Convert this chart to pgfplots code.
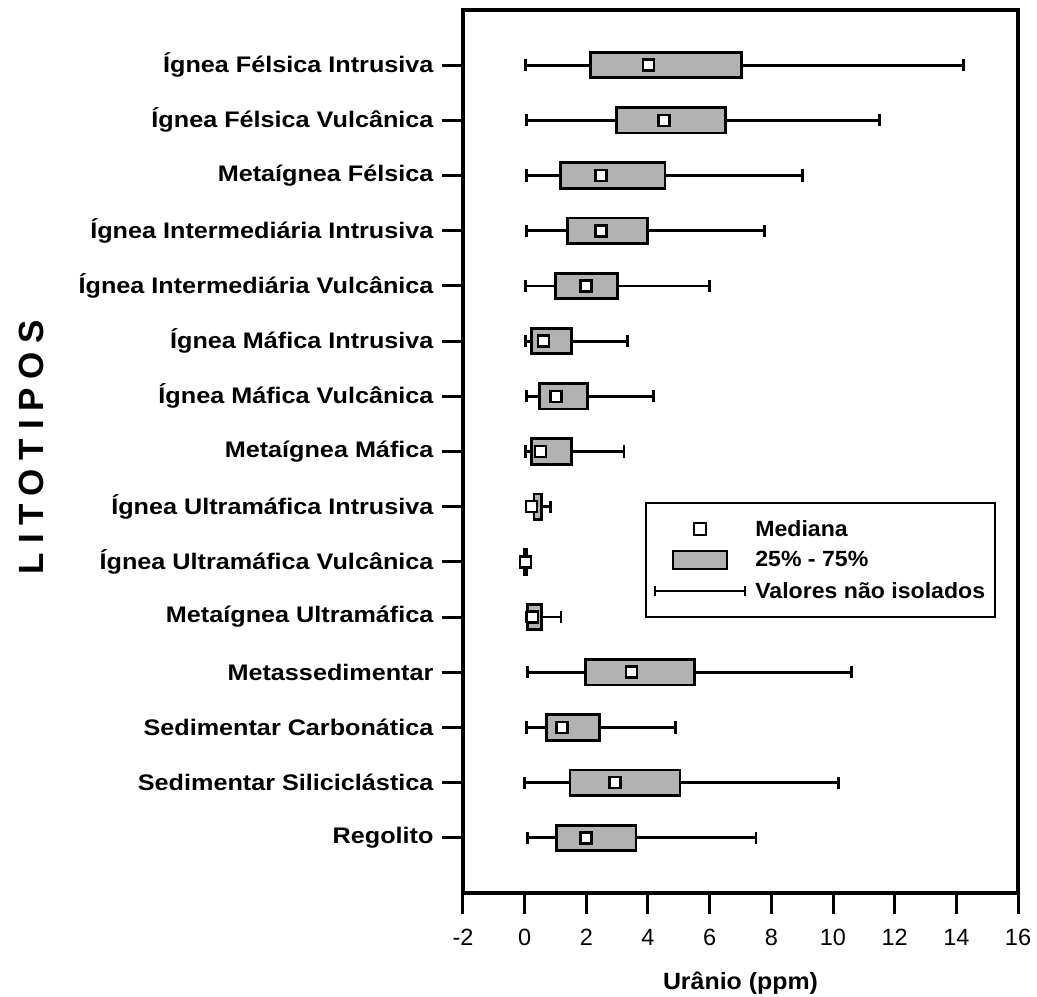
\documentclass[border=0pt]{standalone}
\usepackage{fontspec}
\setmainfont{Liberation Sans}
\newfontfamily\lblfont{Liberation Sans}[FakeStretch=1.12]
\newfontfamily\legfont{Liberation Sans}[FakeStretch=1.05]
\newfontfamily\xlfont{Liberation Sans}[FakeStretch=1.06]
\newfontfamily\titfont{Liberation Sans}[LetterSpace=25]
\usepackage{pgfplots}
\pgfplotsset{compat=1.18}
\usepgfplotslibrary{statistics}
\definecolor{boxgray}{RGB}{178,178,178}
\newcommand{\bp}[6]{%
\addplot[draw=black, fill=boxgray, line width=2.8pt,
  boxplot prepared={draw position=#1, lower whisker=#2, lower quartile=#3,
  median=#4, upper quartile=#5, upper whisker=#6,
  box extend=0.46, whisker extend=0.22}] coordinates {};}
\begin{document}
\begin{tikzpicture}
\begin{axis}[
  name=ax,
  scale only axis, width=555pt, height=883pt,
  xmin=-2, xmax=16, ymin=0, ymax=16,
  xtick={-2,0,...,16},
  ytick={1,...,15},
  yticklabels={Regolito, Sedimentar Siliciclástica, Sedimentar Carbonática, Metassedimentar, Metaígnea Ultramáfica, Ígnea Ultramáfica Vulcânica, Ígnea Ultramáfica Intrusiva, Metaígnea Máfica, Ígnea Máfica Vulcânica, Ígnea Máfica Intrusiva, Ígnea Intermediária Vulcânica, Ígnea Intermediária Intrusiva, Metaígnea Félsica, Ígnea Félsica Vulcânica, Ígnea Félsica Intrusiva},
  tick align=outside, tick pos=left,
  major tick length=21pt,
  every tick/.style={black, line width=3pt},
  axis line style={line width=3.2pt},
  /pgf/number format/assume math mode=true,
  yticklabel style={font=\lblfont\bfseries\fontsize{22.5}{26}\selectfont, xshift=-5pt},
  xticklabel style={font=\fontsize{23.5}{26}\selectfont, yshift=-12pt},
  xlabel={Urânio (ppm)},
  xlabel style={font=\xlfont\bfseries\fontsize{23.5}{27}\selectfont, at={(axis description cs:0.5,-0.102)}, anchor=center},
  ylabel={LITOTIPOS},
  ylabel style={font=\titfont\bfseries\fontsize{35}{40}\selectfont, at={(axis description cs:-0.7784,0.505)}, anchor=center},
  boxplot/draw/median/.code={},
  legend style={at={(rel axis cs:0.328,0.4428)}, anchor=north west, draw=black, line width=2.2pt,
    font=\legfont\bfseries\fontsize{22}{26}\selectfont, inner xsep=8pt, inner ysep=15pt, row sep=10pt, column sep=7pt},
  legend cell align=left,
  legend entries={Mediana, 25\% - 75\%, Valores não isolados},
]
\addlegendimage{legend image code/.code={
  \path[draw=none] (0pt,0pt) -- (90pt,0pt);
  \draw[line width=2.2pt, fill=white] (39pt,-6pt) rectangle (51pt,6pt);}}
\addlegendimage{legend image code/.code={
  \path[draw=none] (0pt,0pt) -- (90pt,0pt);
  \draw[line width=2.2pt, fill=boxgray] (18pt,-9pt) rectangle (72pt,9pt);}}
\addlegendimage{legend image code/.code={
  \draw[line width=2.2pt] (0pt,0pt) -- (90pt,0pt);
  \draw[line width=2.2pt] (0pt,-5pt) -- (0pt,5pt);
  \draw[line width=2.2pt] (90pt,-5pt) -- (90pt,5pt);}}
% position, lower whisker, Q1, median, Q3, upper whisker
\bp{15}{0.04}{2.13}{4.02}{7.04}{14.23}
\bp{14}{0.07}{2.99}{4.51}{6.51}{11.52}
\bp{13}{0.07}{1.16}{2.47}{4.55}{9.00}
\bp{12}{0.07}{1.40}{2.47}{3.99}{7.79}
\bp{11}{0.04}{1.00}{1.99}{3.00}{6.00}
\bp{10}{0.02}{0.23}{0.61}{1.51}{3.34}
\bp{9}{0.07}{0.49}{1.01}{2.03}{4.19}
\bp{8}{0.02}{0.23}{0.51}{1.51}{3.22}
\bp{7}{0.05}{0.30}{0.22}{0.55}{0.84}
\bp{6}{-0.05}{0.00}{0.03}{0.07}{0.10}
\bp{5}{0.05}{0.10}{0.25}{0.55}{1.18}
\bp{4}{0.10}{1.98}{3.46}{5.52}{10.61}
\bp{3}{0.07}{0.72}{1.21}{2.44}{4.90}
\bp{2}{0.00}{1.47}{2.93}{5.04}{10.19}
\bp{1}{0.10}{1.02}{1.98}{3.61}{7.50}
\addplot[only marks, mark=square*, mark size=5.5pt,
  mark options={fill=white, draw=black, line width=2.6pt}] coordinates {
(4.02,15) (4.51,14) (2.47,13) (2.47,12) (1.99,11) (0.61,10) (1.01,9) (0.51,8)
(0.22,7) (0.03,6) (0.25,5) (3.46,4) (1.21,3) (2.93,2) (1.98,1)};
\end{axis}
\path (ax.south west) ++(-463pt,-103pt) coordinate (bbsw);
\path (ax.north east) ++(19pt,10pt) coordinate (bbne);
\pgfresetboundingbox
\path[use as bounding box] (bbsw) rectangle (bbne);
\end{tikzpicture}
\end{document}
